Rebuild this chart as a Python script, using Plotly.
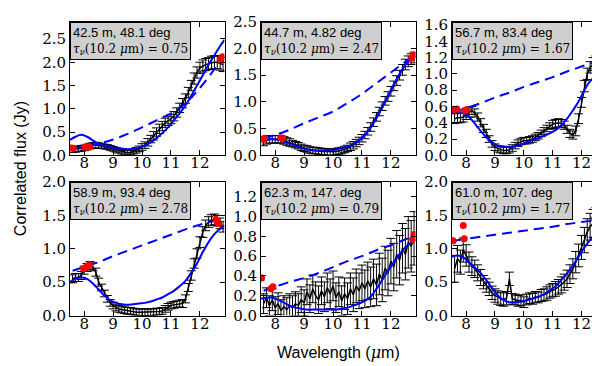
import plotly.graph_objects as go

# ---------------- data ----------------
wl = [7.6, 7.7, 7.8, 7.9, 8.0, 8.1, 8.2, 8.3, 8.4, 8.5,
      8.6, 8.7, 8.8, 8.9, 9.0, 9.1, 9.2, 9.3, 9.4, 9.5,
      9.6, 9.7, 9.8, 9.9, 10.0, 10.1, 10.2, 10.3, 10.4, 10.5,
      10.6, 10.7, 10.8, 10.9, 11.0, 11.1, 11.2, 11.3, 11.4, 11.5,
      11.6, 11.7, 11.8, 11.9, 12.0, 12.1, 12.2, 12.3, 12.4, 12.5,
      12.6, 12.7, 12.8]

model_wl = [7.5, 7.7, 7.9, 8.1, 8.3, 8.5, 8.7, 8.9, 9.1, 9.3, 9.5, 9.7, 9.9, 10.1,
            10.3, 10.5, 10.7, 10.9, 11.1, 11.3, 11.5, 11.7, 11.9, 12.1, 12.3, 12.5,
            12.7, 12.85]

cont_wl = [7.6, 8.0, 8.5, 9.0, 9.5, 10.0, 10.5, 11.0, 11.5, 12.0, 12.5, 12.8]

labels = ["42.5 m, 48.1 deg", "44.7 m, 4.82 deg", "56.7 m, 83.4 deg",
          "58.9 m, 93.4 deg", "62.3 m, 147. deg", "61.0 m, 107. deg"]
tau = ["0.75", "2.47", "1.67", "2.78", "0.79", "1.77"]

flux1 = [0.12, 0.13, 0.14, 0.15, 0.16, 0.18, 0.20, 0.21, 0.22, 0.21,
         0.20, 0.19, 0.18, 0.16, 0.14, 0.12, 0.10, 0.08, 0.06, 0.05,
         0.06, 0.08, 0.11, 0.14, 0.18, 0.22, 0.28, 0.35, 0.42, 0.50,
         0.57, 0.63, 0.70, 0.74, 0.78, 0.84, 0.92, 1.02, 1.12, 1.22,
         1.35, 1.50, 1.65, 1.78, 1.88, 1.92, 1.95, 1.97, 1.99, 2.00,
         2.00, 1.98, 1.95]
err1 = [0.06, 0.06, 0.06, 0.06, 0.06, 0.06, 0.06, 0.06, 0.06, 0.06,
        0.05, 0.05, 0.05, 0.05, 0.05, 0.05, 0.05, 0.05, 0.05, 0.05,
        0.05, 0.05, 0.06, 0.06, 0.07, 0.07, 0.08, 0.08, 0.09, 0.09,
        0.10, 0.10, 0.10, 0.10, 0.10, 0.10, 0.10, 0.10, 0.10, 0.10,
        0.11, 0.11, 0.12, 0.12, 0.12, 0.13, 0.13, 0.13, 0.14, 0.14,
        0.14, 0.15, 0.15]
model1 = [0.33, 0.40, 0.44, 0.40, 0.32, 0.25, 0.21, 0.18, 0.16, 0.14, 0.13, 0.14, 0.17, 0.21,
          0.28, 0.37, 0.48, 0.60, 0.75, 0.90, 1.07, 1.28, 1.50, 1.72, 1.95, 2.15, 2.35, 2.48]
cont1 = [0.15, 0.18, 0.25, 0.34, 0.46, 0.60, 0.75, 0.90, 1.12, 1.45, 1.85, 2.10]
photx1 = [7.55, 7.62, 8.02, 8.10, 8.18, 12.72, 12.78]
photy1 = [0.16, 0.15, 0.17, 0.18, 0.18, 2.05, 2.12]

flux2 = [0.25, 0.28, 0.30, 0.30, 0.30, 0.30, 0.30, 0.28, 0.26, 0.24,
         0.22, 0.20, 0.18, 0.15, 0.13, 0.12, 0.10, 0.09, 0.09, 0.08,
         0.07, 0.07, 0.06, 0.06, 0.06, 0.07, 0.08, 0.09, 0.11, 0.13,
         0.16, 0.19, 0.23, 0.27, 0.32, 0.38, 0.45, 0.53, 0.62, 0.72,
         0.82, 0.92, 1.02, 1.10, 1.20, 1.30, 1.40, 1.50, 1.60, 1.70,
         1.76, 1.80, 1.83]
err2 = [0.07, 0.07, 0.07, 0.07, 0.07, 0.07, 0.07, 0.07, 0.07, 0.07,
        0.06, 0.06, 0.06, 0.06, 0.06, 0.06, 0.06, 0.06, 0.06, 0.06,
        0.06, 0.06, 0.06, 0.06, 0.06, 0.06, 0.06, 0.06, 0.06, 0.06,
        0.07, 0.07, 0.07, 0.07, 0.07, 0.07, 0.07, 0.08, 0.08, 0.08,
        0.08, 0.08, 0.08, 0.09, 0.09, 0.09, 0.09, 0.09, 0.10, 0.10,
        0.10, 0.10, 0.10]
model2 = [0.28, 0.30, 0.30, 0.29, 0.26, 0.22, 0.18, 0.14, 0.11, 0.10, 0.09, 0.09, 0.10, 0.11,
          0.13, 0.16, 0.21, 0.28, 0.38, 0.52, 0.70, 0.90, 1.10, 1.33, 1.52, 1.70, 1.80, 1.85]
cont2 = [0.32, 0.38, 0.48, 0.60, 0.71, 0.82, 0.98, 1.15, 1.35, 1.55, 1.75, 1.86]
photx2 = [7.57, 7.63, 8.20, 8.26, 12.72, 12.78]
photy2 = [0.30, 0.32, 0.33, 0.32, 1.82, 1.88]

flux3 = [0.45, 0.46, 0.46, 0.47, 0.50, 0.53, 0.55, 0.52, 0.47, 0.40,
         0.33, 0.27, 0.20, 0.14, 0.10, 0.08, 0.07, 0.06, 0.06, 0.07,
         0.09, 0.12, 0.15, 0.17, 0.18, 0.18, 0.19, 0.20, 0.22, 0.24,
         0.27, 0.30, 0.33, 0.36, 0.38, 0.39, 0.40, 0.39, 0.37, 0.32,
         0.27, 0.25, 0.30, 0.45, 0.65, 0.85, 1.00, 1.08, 1.12, 1.14,
         1.15, 1.16, 1.15]
err3 = [0.06, 0.06, 0.06, 0.06, 0.06, 0.06, 0.05, 0.05, 0.05, 0.05,
        0.05, 0.05, 0.04, 0.04, 0.04, 0.04, 0.04, 0.04, 0.04, 0.04,
        0.04, 0.04, 0.04, 0.04, 0.04, 0.04, 0.04, 0.04, 0.04, 0.04,
        0.04, 0.04, 0.04, 0.04, 0.05, 0.05, 0.05, 0.05, 0.05, 0.05,
        0.05, 0.05, 0.06, 0.06, 0.06, 0.07, 0.07, 0.07, 0.08, 0.08,
        0.08, 0.08, 0.08]
model3 = [0.52, 0.53, 0.52, 0.47, 0.39, 0.30, 0.22, 0.16, 0.12, 0.11, 0.10, 0.11, 0.13, 0.16,
          0.19, 0.21, 0.24, 0.27, 0.31, 0.37, 0.45, 0.55, 0.66, 0.80, 0.91, 0.97, 1.01, 1.03]
cont3 = [0.53, 0.58, 0.64, 0.71, 0.77, 0.84, 0.90, 0.96, 1.03, 1.09, 1.15, 1.18]
photx3 = [7.60, 7.68, 7.95, 8.02, 12.65, 12.72, 12.80]
photy3 = [0.56, 0.57, 0.55, 0.56, 1.15, 1.18, 1.16]

flux4 = [0.55, 0.57, 0.57, 0.60, 0.68, 0.72, 0.75, 0.73, 0.65, 0.50,
         0.42, 0.33, 0.25, 0.19, 0.15, 0.12, 0.10, 0.09, 0.08, 0.07,
         0.07, 0.06, 0.05, 0.05, 0.05, 0.05, 0.05, 0.05, 0.05, 0.06,
         0.06, 0.07, 0.10, 0.13, 0.15, 0.16, 0.17, 0.18, 0.18, 0.25,
         0.42, 0.60, 0.78, 0.93, 1.10, 1.25, 1.35, 1.40, 1.43, 1.44,
         1.42, 1.38, 1.33]
err4 = [0.06, 0.06, 0.06, 0.06, 0.06, 0.06, 0.06, 0.06, 0.06, 0.06,
        0.05, 0.05, 0.05, 0.05, 0.05, 0.05, 0.05, 0.05, 0.05, 0.05,
        0.05, 0.05, 0.05, 0.05, 0.05, 0.05, 0.05, 0.05, 0.05, 0.05,
        0.05, 0.05, 0.05, 0.05, 0.05, 0.05, 0.05, 0.05, 0.06, 0.06,
        0.06, 0.07, 0.07, 0.07, 0.08, 0.08, 0.08, 0.08, 0.08, 0.08,
        0.08, 0.08, 0.08]
model4 = [0.50, 0.55, 0.57, 0.55, 0.48, 0.39, 0.30, 0.23, 0.19, 0.17, 0.16, 0.17, 0.18, 0.19,
          0.21, 0.24, 0.27, 0.32, 0.37, 0.44, 0.52, 0.64, 0.78, 0.95, 1.10, 1.22, 1.30, 1.35]
cont4 = [0.67, 0.73, 0.80, 0.89, 0.97, 1.05, 1.13, 1.21, 1.29, 1.36, 1.42, 1.46]
photx4 = [7.98, 8.05, 8.12, 8.18, 12.55, 12.60, 12.65]
photy4 = [0.70, 0.72, 0.74, 0.76, 1.44, 1.40, 1.38]

flux5 = [0.12, 0.18, 0.10, 0.16, 0.08, 0.12, 0.05, 0.09, 0.06, 0.10,
         0.08, 0.12, 0.10, 0.16, 0.13, 0.24, 0.17, 0.27, 0.20, 0.16,
         0.25, 0.19, 0.28, 0.22, 0.30, 0.18, 0.24, 0.15, 0.22, 0.17,
         0.27, 0.21, 0.30, 0.25, 0.33, 0.27, 0.35, 0.29, 0.37, 0.31,
         0.42, 0.36, 0.48, 0.43, 0.55, 0.49, 0.62, 0.56, 0.68, 0.62,
         0.74, 0.70, 0.78]
err5 = [0.10, 0.10, 0.10, 0.11, 0.11, 0.11, 0.11, 0.11, 0.12, 0.12,
        0.12, 0.12, 0.12, 0.13, 0.13, 0.13, 0.14, 0.14, 0.14, 0.14,
        0.14, 0.15, 0.15, 0.15, 0.15, 0.15, 0.15, 0.15, 0.16, 0.16,
        0.16, 0.17, 0.17, 0.18, 0.18, 0.19, 0.19, 0.20, 0.20, 0.21,
        0.21, 0.22, 0.22, 0.23, 0.23, 0.24, 0.24, 0.25, 0.25, 0.26,
        0.26, 0.26, 0.27]
model5 = [0.17, 0.18, 0.18, 0.16, 0.13, 0.10, 0.08, 0.07, 0.06, 0.06, 0.06, 0.06, 0.06, 0.06,
          0.07, 0.08, 0.10, 0.12, 0.15, 0.19, 0.27, 0.36, 0.45, 0.54, 0.62, 0.69, 0.74, 0.77]
cont5 = [0.25, 0.29, 0.34, 0.38, 0.43, 0.49, 0.55, 0.60, 0.66, 0.71, 0.77, 0.80]
photx5 = [7.53, 7.85, 7.92, 12.75, 12.80]
photy5 = [0.38, 0.27, 0.29, 0.77, 0.82]

flux6 = [0.70, 0.85, 0.80, 0.98, 0.90, 0.80, 0.74, 0.70, 0.64, 0.57,
         0.50, 0.45, 0.40, 0.34, 0.30, 0.27, 0.25, 0.24, 0.26, 0.55,
         0.25, 0.24, 0.22, 0.23, 0.20, 0.24, 0.26, 0.25, 0.28, 0.27,
         0.30, 0.31, 0.33, 0.36, 0.38, 0.40, 0.43, 0.46, 0.50, 0.55,
         0.62, 0.70, 0.80, 0.90, 1.02, 1.13, 1.25, 1.33, 1.38, 1.40,
         1.38, 1.36, 1.33]
err6 = [0.20, 0.20, 0.18, 0.18, 0.16, 0.15, 0.14, 0.13, 0.12, 0.12,
        0.10, 0.10, 0.10, 0.10, 0.10, 0.10, 0.10, 0.10, 0.10, 0.10,
        0.08, 0.08, 0.08, 0.08, 0.08, 0.08, 0.08, 0.08, 0.08, 0.08,
        0.09, 0.09, 0.10, 0.10, 0.10, 0.11, 0.11, 0.12, 0.12, 0.13,
        0.14, 0.15, 0.16, 0.17, 0.18, 0.19, 0.20, 0.20, 0.21, 0.22,
        0.22, 0.22, 0.22]
model6 = [0.88, 0.90, 0.87, 0.80, 0.72, 0.64, 0.53, 0.41, 0.30, 0.23, 0.20, 0.20, 0.21, 0.23,
          0.25, 0.28, 0.32, 0.38, 0.44, 0.53, 0.63, 0.75, 0.88, 1.02, 1.13, 1.22, 1.29, 1.33]
cont6 = [1.12, 1.15, 1.18, 1.21, 1.24, 1.27, 1.30, 1.33, 1.37, 1.40, 1.43, 1.45]
photx6 = [7.55, 7.90, 7.93, 12.45, 12.50, 12.55]
photy6 = [1.12, 1.35, 1.15, 1.45, 1.40, 1.38]

y_tops = [2.87, 2.5, 1.64, 2.0, 1.35, 2.0]
y_dticks = [0.5, 0.5, 0.2, 0.5, 0.2, 0.5]

fluxes = [flux1, flux2, flux3, flux4, flux5, flux6]
errs = [err1, err2, err3, err4, err5, err6]
models = [model1, model2, model3, model4, model5, model6]
conts = [cont1, cont2, cont3, cont4, cont5, cont6]
photxs = [photx1, photx2, photx3, photx4, photx5, photx6]
photys = [photy1, photy2, photy3, photy4, photy5, photy6]

# ---------------- layout geometry ----------------
W, H = 600, 366
col_px = [(62, 216.5), (253, 407.5), (444, 598)]
row_px = [(5, 145.5), (173.5, 314)]

SERIF = "DejaVu Serif"
SANS = "Liberation Sans"

fig = go.Figure()
layout = dict(
    width=W, height=H, margin=dict(l=0, r=0, t=0, b=0),
    paper_bgcolor="white", plot_bgcolor="white", showlegend=False,
    font=dict(family=SERIF, size=15, color="black"),
)
annotations = []

for i in range(6):
    r, c = divmod(i, 3)
    n = i + 1
    xa = "x" if n == 1 else f"x{n}"
    ya = "y" if n == 1 else f"y{n}"
    x0, x1 = col_px[c]
    yt, yb = row_px[r]
    axcommon = dict(showline=True, linecolor="black", linewidth=1, mirror="ticks",
                    ticks="inside", ticklen=5, tickcolor="black", tickwidth=1,
                    showgrid=False, zeroline=False,
                    tickfont=dict(family=SERIF, size=15, color="black"))
    layout["xaxis" if n == 1 else f"xaxis{n}"] = dict(
        domain=[x0 / W, x1 / W], anchor=ya, range=[7.51, 12.85],
        tickmode="array", tickvals=[8, 9, 10, 11, 12], ticktext=["8", "9", "10", "11", "12"],
        ticklabelstandoff=-6, **axcommon)
    layout["yaxis" if n == 1 else f"yaxis{n}"] = dict(
        domain=[1 - yb / H, 1 - yt / H], anchor=xa, range=[0, y_tops[i]],
        tick0=0, dtick=y_dticks[i], tickformat=".1f", **axcommon)

    fig.add_trace(go.Scatter(
        x=wl, y=fluxes[i], mode="lines", xaxis=xa, yaxis=ya,
        line=dict(color="black", width=1.5),
        error_y=dict(type="data", array=errs[i], color="black", thickness=1, width=4.5)))
    fig.add_trace(go.Scatter(
        x=model_wl, y=models[i], mode="lines", xaxis=xa, yaxis=ya,
        line=dict(color="#0000ff", width=2, shape="spline")))
    fig.add_trace(go.Scatter(
        x=cont_wl, y=conts[i], mode="lines", xaxis=xa, yaxis=ya,
        line=dict(color="#0000ff", width=2, dash="10px,6px", shape="spline")))
    fig.add_trace(go.Scatter(
        x=photxs[i], y=photys[i], mode="markers", xaxis=xa, yaxis=ya,
        marker=dict(color="#ff0000", size=7, line=dict(width=0))))

    txt = (f"<span style='font-family:{SANS};font-size:13px'>{labels[i]}</span><br>"
           f"<i>τ</i><sub><i>ν</i></sub>(10.2 <i>μ</i>m) = {tau[i]}")
    annotations.append(dict(
        text=txt, xref=f"{xa} domain", yref=f"{ya} domain", x=0, y=1,
        xanchor="left", yanchor="top", align="left", showarrow=False,
        font=dict(size=12, color="black", family=SERIF), bgcolor="#cfcfcf",
        bordercolor="black", borderwidth=1, borderpad=2))

annotations.append(dict(
    text="Correlated flux (Jy)", xref="paper", yref="paper", x=12 / W, y=1 - 160 / H,
    textangle=-90, showarrow=False, xanchor="center", yanchor="middle",
    font=dict(family=SANS, size=16, color="black")))
annotations.append(dict(
    text="Wavelength (<span style='font-family:" + SERIF + "'><i>μ</i></span>m)",
    xref="paper", yref="paper", x=330 / W, y=1 - 353 / H,
    showarrow=False, xanchor="center", yanchor="middle",
    font=dict(family=SANS, size=16, color="black")))

layout["annotations"] = annotations
fig.update_layout(**layout)
fig.write_html("out.html")
